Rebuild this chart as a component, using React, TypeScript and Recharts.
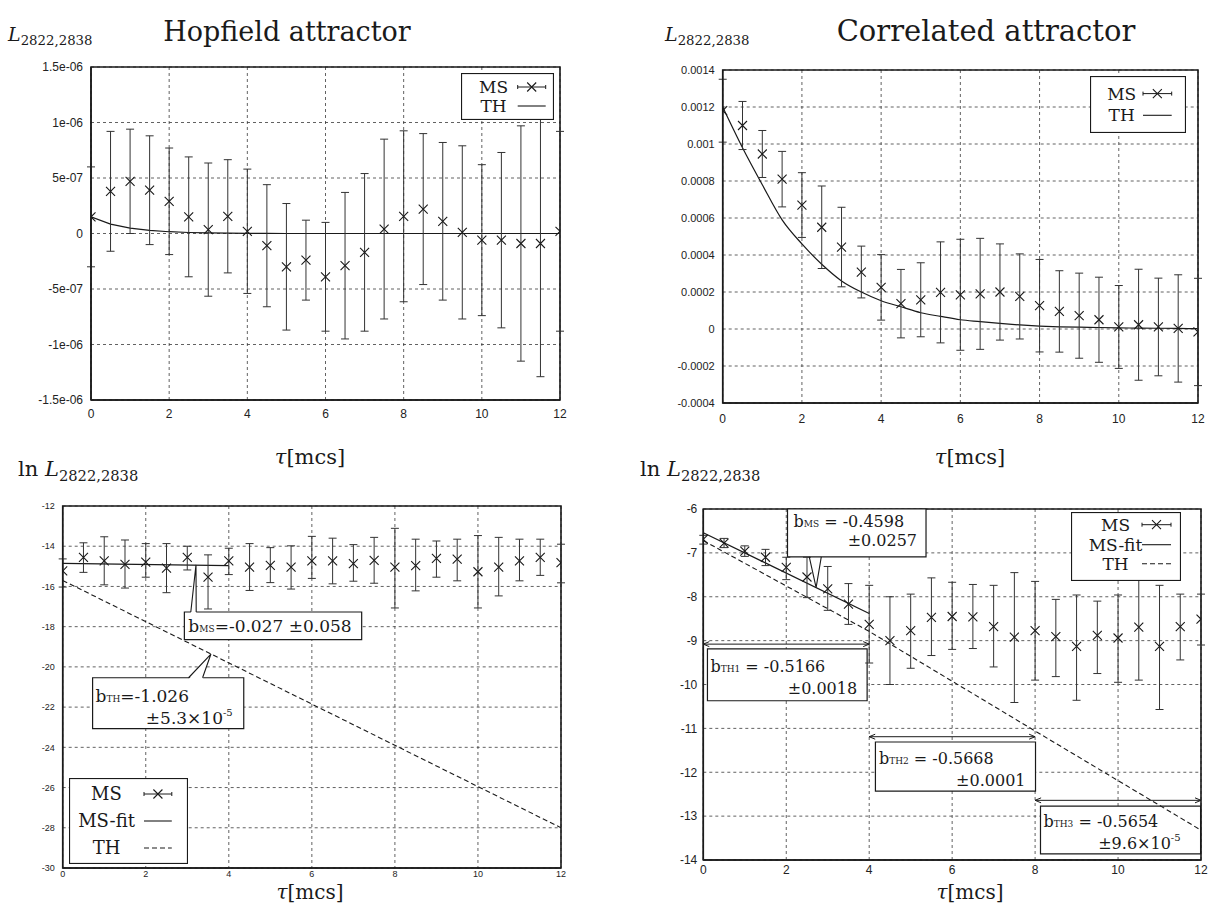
import React from 'react'
import {
  ComposedChart, Scatter, Line, XAxis, YAxis, CartesianGrid, ErrorBar,
  ReferenceArea, ReferenceLine, Legend,
} from 'recharts'

const serif = '"DejaVu Serif", serif'
const sans = '"Liberation Sans", Arial, sans-serif'
const ink = '#1a1a1a'

const tau = [0, 0.5, 1, 1.5, 2, 2.5, 3, 3.5, 4, 4.5, 5, 5.5, 6, 6.5, 7, 7.5, 8, 8.5, 9, 9.5, 10, 10.5, 11, 11.5, 12]
const xTicks = [0, 2, 4, 6, 8, 10, 12]

// top left: Hopfield attractor, L
const hopMs = [1.5e-7, 3.8e-7, 4.7e-7, 3.9e-7, 2.9e-7, 1.5e-7, 0.35e-7, 1.55e-7, 0.2e-7, -1.1e-7, -3.0e-7, -2.4e-7, -3.9e-7, -2.9e-7, -1.7e-7, 0.4e-7, 1.55e-7, 2.2e-7, 1.1e-7, 0.1e-7, -0.6e-7, -0.6e-7, -0.9e-7, -0.9e-7, 0.2e-7]
const hopErr = [4.5e-7, 5.4e-7, 4.7e-7, 4.9e-7, 4.8e-7, 5.4e-7, 6.0e-7, 5.1e-7, 5.6e-7, 5.5e-7, 5.7e-7, 3.6e-7, 4.9e-7, 6.6e-7, 7.1e-7, 8.1e-7, 7.7e-7, 6.8e-7, 7.1e-7, 7.8e-7, 6.8e-7, 7.9e-7, 1.06e-6, 1.2e-6, 9e-7]
const hopTh = [1.5e-7, 0.85e-7, 0.48e-7, 0.28e-7, 0.16e-7, 0.09e-7, 0.05e-7, 0.03e-7, 0.02e-7, 0.01e-7, 0, 0, 0, 0, 0, 0, 0, 0, 0, 0, 0, 0, 0, 0, 0]
const hopYTicks = [-1.5e-6, -1e-6, -5e-7, 0, 5e-7, 1e-6, 1.5e-6]
const hopYLabels = ['-1.5e-06', '-1e-06', '-5e-07', '0', '5e-07', '1e-06', '1.5e-06']

// top right: Correlated attractor, L
const corMs = [0.00118, 0.0011, 0.000946, 0.00081, 0.00067, 0.00055, 0.000443, 0.000308, 0.000225, 0.000137, 0.000158, 0.000198, 0.000185, 0.00019, 0.0002, 0.000176, 0.000126, 0.000095, 0.000072, 0.00005, 0.000011, 0.000023, 0.000011, 0.000003, -0.000016]
const corErr = [0.00017, 0.00013, 0.000127, 0.00015, 0.000175, 0.000223, 0.000215, 0.00014, 0.000177, 0.000185, 0.0002, 0.000273, 0.0003, 0.0003, 0.00026, 0.00023, 0.00025, 0.00022, 0.00023, 0.00023, 0.000224, 0.0003, 0.000264, 0.00029, 0.00029]
const corTh = [0.0012, 0.00098, 0.00078, 0.00059, 0.00046, 0.00035, 0.00026, 0.0002, 0.000153, 0.00012, 0.000088, 0.000068, 0.00005, 0.00004, 0.00003, 0.000022, 0.000016, 0.000012, 0.00001, 0.000008, 0.000006, 0.000005, 0.000004, 0.000003, 0.000002]
const corYTicks = [-0.0004, -0.0002, 0, 0.0002, 0.0004, 0.0006, 0.0008, 0.001, 0.0012, 0.0014]
const corYLabels = ['-0.0004', '-0.0002', '0', '0.0002', '0.0004', '0.0006', '0.0008', '0.001', '0.0012', '0.0014']

// bottom left: ln L, Hopfield (asymmetric bars: below / above)
const hopLnMs = [-15.23, -14.55, -14.73, -14.9, -14.79, -15.09, -14.55, -15.54, -14.73, -15.04, -14.95, -15.04, -14.73, -14.73, -14.86, -14.7, -15.04, -14.97, -14.6, -14.64, -15.27, -15.04, -14.73, -14.55, -14.82]
const hopLnLo = [0.8, 0.75, 1.19, 1.18, 0.75, 1.22, 0.63, 1.58, 0.68, 1.16, 0.86, 1.09, 0.87, 1.14, 0.88, 1.14, 2.03, 1.25, 0.94, 1.08, 1.8, 1.43, 0.99, 0.9, 1.0]
const hopLnHi = [0.6, 0.72, 1.2, 1.21, 0.92, 1.22, 0.55, 1.11, 0.63, 1.17, 0.88, 1.06, 1.22, 1.13, 0.94, 1.14, 1.93, 1.32, 0.86, 0.99, 1.8, 1.48, 1.08, 0.9, 0.92]
const hopLnFitT = [0, 4]
const hopLnFit = [-14.85, -14.96]
const hopLnThT = [0, 12]
const hopLnTh = [-15.7, -28.0]
const hopLnYTicks = [-30, -28, -26, -24, -22, -20, -18, -16, -14, -12]

// bottom right: ln L, correlated
const corLnMs = [-6.69, -6.78, -6.96, -7.1, -7.33, -7.55, -7.82, -8.17, -8.63, -9.0, -8.77, -8.47, -8.45, -8.46, -8.68, -8.92, -8.77, -8.91, -9.13, -8.88, -8.94, -8.69, -9.13, -8.68, -8.51]
const corLnLo = [0.11, 0.1, 0.12, 0.19, 0.28, 0.47, 0.49, 0.46, 0.88, 1.0, 0.86, 0.87, 0.75, 0.72, 0.92, 1.49, 1.13, 0.91, 1.23, 0.87, 1.01, 1.21, 1.44, 0.76, 0.59]
const corLnHi = [0.09, 0.11, 0.12, 0.18, 0.23, 0.45, 0.51, 0.47, 0.89, 1.0, 0.83, 0.9, 0.78, 0.74, 0.94, 1.47, 1.12, 0.85, 1.17, 0.78, 0.98, 1.2, 1.39, 0.74, 0.57]
const corLnFitT = [0, 4]
const corLnFit = [-6.54, -8.38]
const corLnThT = [0, 4, 8, 12]
const corLnTh = [-6.72, -8.79, -11.06, -13.32]
const corLnYTicks = [-14, -13, -12, -11, -10, -9, -8, -7, -6]

const hopRows = tau.map((t, i) => ({ t, ms: hopMs[i], err: hopErr[i] }))
const hopThRows = tau.map((t, i) => ({ t, th: hopTh[i] }))
const corRows = tau.map((t, i) => ({ t, ms: corMs[i], err: corErr[i] }))
const corThRows = tau.map((t, i) => ({ t, th: corTh[i] }))
const hopLnRows = tau.map((t, i) => ({ t, ms: hopLnMs[i], err: [hopLnLo[i], hopLnHi[i]] }))
const hopLnFitRows = hopLnFitT.map((t, i) => ({ t, fit: hopLnFit[i] }))
const hopLnThRows = hopLnThT.map((t, i) => ({ t, th: hopLnTh[i] }))
const corLnRows = tau.map((t, i) => ({ t, ms: corLnMs[i], err: [corLnLo[i], corLnHi[i]] }))
const corLnFitRows = corLnFitT.map((t, i) => ({ t, fit: corLnFit[i] }))
const corLnThRows = corLnThT.map((t, i) => ({ t, th: corLnTh[i] }))

const Cross = (props: any) => {
  const { cx, cy } = props
  if (cx == null || cy == null) return null
  const r = 4.5
  return (
    <path
      d={`M${cx - r},${cy - r}L${cx + r},${cy + r}M${cx - r},${cy + r}L${cx + r},${cy - r}`}
      stroke={ink}
      strokeWidth={1.1}
      fill="none"
    />
  )
}

const Arrow = (props: any) => {
  const { x1, y1, x2, y2 } = props
  const a = 6
  const b = 2.5
  return (
    <g stroke={ink} strokeWidth={1} fill="none">
      <line x1={x1} y1={y1} x2={x2} y2={y2} />
      <polyline points={`${x1 + a},${y1 - b} ${x1},${y1} ${x1 + a},${y1 + b}`} />
      <polyline points={`${x2 - a},${y2 - b} ${x2},${y2} ${x2 - a},${y2 + b}`} />
    </g>
  )
}

// callout notch: segment goes from the middle of the notch base to the tip
const pointer = (half: number) => (props: any) => {
  const { x1, y1, x2, y2 } = props
  return (
    <g>
      <path d={`M${x1 - half},${y1 + 1.5}L${x2},${y2}L${x1 + half},${y1 + 1.5}Z`} fill="#fff" stroke="none" />
      <polyline points={`${x1 - half},${y1} ${x2},${y2} ${x1 + half},${y1}`} fill="none" stroke={ink} strokeWidth={1.1} />
    </g>
  )
}

type BoxLine = { dx: number; dy: number; end?: boolean; node: React.ReactNode }

const BoxLabel = (props: any) => {
  const { viewBox, lines, size } = props
  if (!viewBox) return null
  const { x, y, width } = viewBox
  return (
    <g fontFamily={serif} fontSize={size} fill={ink}>
      {lines.map((ln: BoxLine, i: number) => (
        <text
          key={i}
          x={ln.end ? x + width - ln.dx : x + ln.dx}
          y={y + ln.dy}
          textAnchor={ln.end ? 'end' : 'start'}
        >
          {ln.node}
        </text>
      ))}
    </g>
  )
}

type LegendItem = { label: string; kind: 'ms' | 'solid' | 'dashed' }

const legendBox = (w: number, h: number, textX: number, s1: number, s2: number, rowY: number[], items: LegendItem[], size: number) => () => (
  <svg width={w} height={h} style={{ display: 'block' }}>
    <rect x={0.5} y={0.5} width={w - 1} height={h - 1} fill="#fff" stroke={ink} strokeWidth={1.2} />
    {items.map((it, i) => {
      const y = rowY[i]
      const m = (s1 + s2) / 2
      return (
        <g key={it.label}>
          <text x={textX} y={y} dy="0.36em" textAnchor="middle" fontFamily={serif} fontSize={size} fill={ink}>
            {it.label}
          </text>
          {it.kind === 'ms' ? (
            <g stroke={ink} strokeWidth={1} fill="none">
              <line x1={s1} y1={y} x2={s2} y2={y} />
              <line x1={s1} y1={y - 2} x2={s1} y2={y + 2} />
              <line x1={s2} y1={y - 2} x2={s2} y2={y + 2} />
              <path d={`M${m - 4.5},${y - 4.5}L${m + 4.5},${y + 4.5}M${m - 4.5},${y + 4.5}L${m + 4.5},${y - 4.5}`} strokeWidth={1.1} />
            </g>
          ) : (
            <line x1={s1} y1={y} x2={s2} y2={y} stroke={ink} strokeWidth={1.1} strokeDasharray={it.kind === 'dashed' ? '5 3' : undefined} />
          )}
        </g>
      )
    })}
  </svg>
)

const abs = (left: number, top: number): React.CSSProperties => ({ position: 'absolute', left, top })

const Txt = (props: { x: number; y: number; size: number; children: React.ReactNode; center?: boolean }) => (
  <div
    style={{
      position: 'absolute',
      left: props.x,
      top: props.y,
      transform: props.center ? 'translate(-50%, -50%)' : 'translate(0, -50%)',
      fontFamily: serif,
      fontSize: props.size,
      lineHeight: 1,
      whiteSpace: 'nowrap',
      color: ink,
    }}
  >
    {props.children}
  </div>
)

const LTitle = (props: { x: number; y: number; ln?: boolean; size: number }) => (
  <Txt x={props.x} y={props.y} size={props.size}>
    {props.ln ? 'ln ' : ''}
    <i>L</i>
    <span style={{ fontSize: props.size * 0.7, position: 'relative', top: props.size * 0.22 }}>2822,2838</span>
  </Txt>
)

const TauLabel = (props: { x: number; y: number; size: number }) => (
  <Txt x={props.x} y={props.y} size={props.size} center>
    <i>τ</i>[mcs]
  </Txt>
)

const gridProps = { stroke: '#3a3a3a', strokeDasharray: '3 3', strokeWidth: 0.8 }
const axisLine = { stroke: ink, strokeWidth: 1.4 }
const xAxisProps = (font: number, margin: number) => ({
  type: 'number' as const,
  dataKey: 't',
  domain: [0, 12],
  ticks: xTicks,
  interval: 0 as const,
  allowDataOverflow: true,
  height: 30,
  tickLine: false,
  tickSize: 0,
  tickMargin: margin,
  axisLine,
  tick: { fontSize: font, fill: '#222', fontFamily: sans },
})
const yAxisProps = (width: number, domain: number[], ticks: number[], font: number, margin: number) => ({
  type: 'number' as const,
  domain,
  ticks,
  interval: 0 as const,
  allowDataOverflow: true,
  width,
  tickLine: false,
  tickSize: 0,
  tickMargin: margin,
  axisLine,
  tick: { fontSize: font, fill: '#222', fontFamily: sans },
})
const frame = { fill: 'none', stroke: ink, strokeWidth: 1.6, fillOpacity: 0 }
const boxStyle = { fill: '#fff', fillOpacity: 1, stroke: ink, strokeWidth: 1.2 }
const sub = (s: string, size: number) => <tspan fontSize={size}>{s}</tspan>

const App = () => {
  return (
    <div style={{ position: 'absolute', left: 0, top: 0, width: 1210, height: 904, background: '#fff' }}>
      {/* titles */}
      <LTitle x={8} y={34} size={19} />
      <Txt x={287} y={31} size={27} center>Hopfield attractor</Txt>
      <LTitle x={665} y={34} size={19} />
      <Txt x={986} y={31} size={29} center>Correlated attractor</Txt>
      <TauLabel x={310} y={457} size={21} />
      <TauLabel x={970} y={457} size={21} />
      <LTitle x={18} y={469} size={21} ln />
      <LTitle x={640} y={469} size={21} ln />
      <TauLabel x={310} y={892} size={20} />
      <TauLabel x={970} y={892} size={20} />

      {/* top left */}
      <div style={abs(0, 57)}>
        <ComposedChart width={570} height={373} data={hopRows} margin={{ top: 10, right: 10, bottom: 0, left: 0 }}>
          <CartesianGrid {...gridProps} />
          <XAxis {...xAxisProps(12, 9)} />
          <YAxis
            {...yAxisProps(91, [-1.5e-6, 1.5e-6], hopYTicks, 12, 8)}
            tickFormatter={(v: number) => hopYLabels[hopYTicks.indexOf(v)] ?? String(v)}
          />
          <ReferenceArea x1={0} x2={12} y1={-1.5e-6} y2={1.5e-6} {...frame} />
          <Line data={hopThRows} dataKey="th" type="linear" stroke={ink} strokeWidth={1.2} dot={false} isAnimationActive={false} />
          <Scatter data={hopRows} dataKey="ms" shape={<Cross />} isAnimationActive={false}>
            <ErrorBar dataKey="err" direction="y" width={4} stroke="#333" strokeWidth={1} isAnimationActive={false} />
          </Scatter>
          <Legend
            layout="horizontal"
            verticalAlign="middle"
            align="center"
            wrapperStyle={{ left: 461, top: 15.7, width: 'auto' }}
            content={legendBox(93, 47, 32.5, 56.7, 84.7, [14, 33], [
              { label: 'MS', kind: 'ms' },
              { label: 'TH', kind: 'solid' },
            ], 17)}
          />
        </ComposedChart>
      </div>

      {/* top right */}
      <div style={abs(630, 60)}>
        <ComposedChart width={578} height={373} data={corRows} margin={{ top: 10, right: 10, bottom: 0, left: 0 }}>
          <CartesianGrid {...gridProps} />
          <XAxis {...xAxisProps(12, 11)} />
          <YAxis
            {...yAxisProps(92.7, [-0.0004, 0.0014], corYTicks, 11, 8)}
            tickFormatter={(v: number) => corYLabels[corYTicks.indexOf(v)] ?? String(v)}
          />
          <ReferenceArea x1={0} x2={12} y1={-0.0004} y2={0.0014} {...frame} />
          <Line data={corThRows} dataKey="th" type="monotone" stroke={ink} strokeWidth={1.2} dot={false} isAnimationActive={false} />
          <Scatter data={corRows} dataKey="ms" shape={<Cross />} isAnimationActive={false}>
            <ErrorBar dataKey="err" direction="y" width={4} stroke="#333" strokeWidth={1} isAnimationActive={false} />
          </Scatter>
          <Legend
            layout="horizontal"
            verticalAlign="middle"
            align="center"
            wrapperStyle={{ left: 460, top: 15.7, width: 'auto' }}
            content={legendBox(96, 57, 31.7, 53, 81.7, [17.6, 39.3], [
              { label: 'MS', kind: 'ms' },
              { label: 'TH', kind: 'solid' },
            ], 17)}
          />
        </ComposedChart>
      </div>

      {/* bottom left */}
      <div style={abs(0, 496)}>
        <ComposedChart width={571} height={402} data={hopLnRows} margin={{ top: 10, right: 10, bottom: 0, left: 0 }}>
          <CartesianGrid {...gridProps} />
          <XAxis {...xAxisProps(9, 3)} />
          <YAxis {...yAxisProps(62.7, [-30, -12], hopLnYTicks, 9, 8)} />
          <ReferenceArea x1={0} x2={12} y1={-30} y2={-12} {...frame} />
          <Line data={hopLnThRows} dataKey="th" type="linear" stroke={ink} strokeWidth={1.1} strokeDasharray="5 3" dot={false} isAnimationActive={false} />
          <Line data={hopLnFitRows} dataKey="fit" type="linear" stroke={ink} strokeWidth={1.2} dot={false} isAnimationActive={false} />
          <Scatter data={hopLnRows} dataKey="ms" shape={<Cross />} isAnimationActive={false}>
            <ErrorBar dataKey="err" direction="y" width={4} stroke="#333" strokeWidth={1} isAnimationActive={false} />
          </Scatter>
          <ReferenceArea
            x1={2.93}
            x2={7.2}
            y1={-17.27}
            y2={-18.64}
            {...boxStyle}
            label={<BoxLabel size={17} lines={[
              { dx: 4, dy: 20, node: <>b{sub('MS', 9)}=-0.027 ±0.058</> },
            ]} />}
          />
          <ReferenceLine segment={[{ x: 3.15, y: -17.27 }, { x: 3.21, y: -14.93 }]} shape={pointer(2.7)} />
          <ReferenceArea
            x1={0.72}
            x2={4.36}
            y1={-20.54}
            y2={-23.07}
            {...boxStyle}
            label={<BoxLabel size={17} lines={[
              { dx: 3, dy: 24, node: <>b{sub('TH', 9)}=-1.026</> },
              { dx: 11, dy: 46, end: true, node: <>±5.3×10<tspan fontSize={10} dy={-8}>-5</tspan></> },
            ]} />}
          />
          <ReferenceLine segment={[{ x: 3.2, y: -20.54 }, { x: 3.57, y: -19.36 }]} shape={pointer(7)} />
          <Legend
            layout="horizontal"
            verticalAlign="middle"
            align="center"
            wrapperStyle={{ left: 69.2, top: 281.7, width: 'auto' }}
            content={legendBox(119, 86, 37.5, 75, 102.8, [16, 43, 70], [
              { label: 'MS', kind: 'ms' },
              { label: 'MS-fit', kind: 'solid' },
              { label: 'TH', kind: 'dashed' },
            ], 18)}
          />
        </ComposedChart>
      </div>

      {/* bottom right */}
      <div style={abs(630, 499)}>
        <ComposedChart width={579} height={391} data={corLnRows} margin={{ top: 10, right: 8, bottom: 0, left: 0 }}>
          <CartesianGrid {...gridProps} />
          <XAxis {...xAxisProps(12, 5)} />
          <YAxis {...yAxisProps(73.3, [-14, -6], corLnYTicks, 12, 6)} />
          <ReferenceArea x1={0} x2={12} y1={-14} y2={-6} {...frame} />
          <Line data={corLnThRows} dataKey="th" type="linear" stroke={ink} strokeWidth={1.1} strokeDasharray="5 3" dot={false} isAnimationActive={false} />
          <Line data={corLnFitRows} dataKey="fit" type="linear" stroke={ink} strokeWidth={1.2} dot={false} isAnimationActive={false} />
          <Scatter data={corLnRows} dataKey="ms" shape={<Cross />} isAnimationActive={false}>
            <ErrorBar dataKey="err" direction="y" width={4} stroke="#333" strokeWidth={1} isAnimationActive={false} />
          </Scatter>
          <ReferenceArea
            x1={2.03}
            x2={5.37}
            y1={-6}
            y2={-7.09}
            {...boxStyle}
            label={<BoxLabel size={16} lines={[
              { dx: 6, dy: 18, node: <>b{sub('MS', 9)} = -0.4598</> },
              { dx: 9, dy: 37, end: true, node: <>±0.0257</> },
            ]} />}
          />
          <ReferenceLine segment={[{ x: 2.7, y: -7.09 }, { x: 2.72, y: -7.79 }]} shape={pointer(6)} />
          <ReferenceLine segment={[{ x: 0, y: -9.08 }, { x: 4, y: -9.08 }]} shape={<Arrow />} />
          <ReferenceArea
            x1={0.1}
            x2={3.95}
            y1={-9.19}
            y2={-10.37}
            {...boxStyle}
            label={<BoxLabel size={16} lines={[
              { dx: 3, dy: 23, node: <>b{sub('TH1', 9)} = -0.5166</> },
              { dx: 10, dy: 45, end: true, node: <>±0.0018</> },
            ]} />}
          />
          <ReferenceLine segment={[{ x: 4, y: -11.19 }, { x: 8, y: -11.19 }]} shape={<Arrow />} />
          <ReferenceArea
            x1={4.15}
            x2={8.01}
            y1={-11.31}
            y2={-12.43}
            {...boxStyle}
            label={<BoxLabel size={16} lines={[
              { dx: 3.5, dy: 22, node: <>b{sub('TH2', 9)} = -0.5668</> },
              { dx: 10, dy: 44, end: true, node: <>±0.0001</> },
            ]} />}
          />
          <ReferenceLine segment={[{ x: 8, y: -12.64 }, { x: 12, y: -12.64 }]} shape={<Arrow />} />
          <ReferenceArea
            x1={8.13}
            x2={11.99}
            y1={-12.77}
            y2={-13.86}
            {...boxStyle}
            label={<BoxLabel size={16} lines={[
              { dx: 3, dy: 21, node: <>b{sub('TH3', 9)} = -0.5654</> },
              { dx: 20, dy: 43, end: true, node: <>±9.6×10<tspan fontSize={10} dy={-8}>-5</tspan></> },
            ]} />}
          />
          <Legend
            layout="horizontal"
            verticalAlign="middle"
            align="center"
            wrapperStyle={{ left: 440.7, top: 13.3, width: 'auto' }}
            content={legendBox(110, 69, 44.5, 71, 100, [12.7, 32.7, 51.7], [
              { label: 'MS', kind: 'ms' },
              { label: 'MS-fit', kind: 'solid' },
              { label: 'TH', kind: 'dashed' },
            ], 17)}
          />
        </ComposedChart>
      </div>
    </div>
  )
}

export default App
